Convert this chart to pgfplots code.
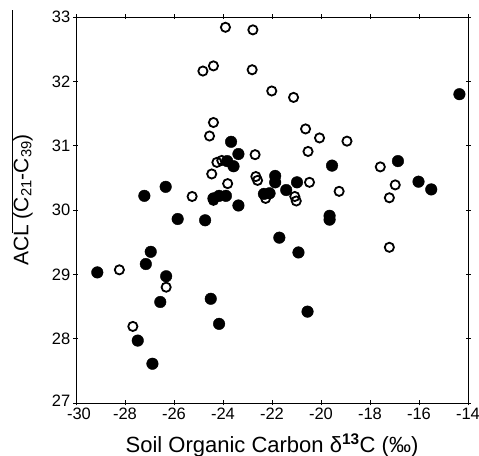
\documentclass[border=0pt]{standalone}
\usepackage{fontspec}
\setmainfont{Liberation Sans}
\usepackage{pgfplots}
\usepackage{pgfplotstable}
\pgfplotsset{compat=1.18}

% filled symbols
\pgfplotstableread{
x y
-29.13 29.03
-26.95 29.35
-27.15 29.16
-26.32 28.97
-26.56 28.57
-27.48 27.97
-26.88 27.61
-24.50 28.62
-24.16 28.23
-27.21 30.22
-26.34 30.36
-25.85 29.86
-24.73 29.84
-24.39 30.18
-24.16 30.22
-23.88 30.22
-23.37 30.07
-23.67 31.06
-23.37 30.87
-23.83 30.76
-23.57 30.68
-21.87 30.53
-21.87 30.43
-20.98 30.43
-21.42 30.31
-22.33 30.25
-22.10 30.26
-21.70 29.57
-20.92 29.34
-20.55 28.42
-19.55 30.69
-19.65 29.91
-19.65 29.85
-16.86 30.76
-16.02 30.44
-15.50 30.32
-14.35 31.80
}\filleddata

% open symbols
\pgfplotstableread{
x y
-23.90 32.84
-24.82 32.16
-24.39 32.24
-22.78 32.80
-22.81 32.18
-22.01 31.85
-21.12 31.75
-24.39 31.36
-24.55 31.15
-20.63 31.26
-20.06 31.12
-18.94 31.07
-20.53 30.91
-22.69 30.86
-24.25 30.74
-24.05 30.77
-24.46 30.56
-23.81 30.41
-22.66 30.52
-22.59 30.46
-20.47 30.43
-25.26 30.21
-24.39 30.15
-22.26 30.18
-21.07 30.21
-21.01 30.14
-19.26 30.29
-17.58 30.67
-16.97 30.39
-17.21 30.19
-17.21 29.42
-28.23 29.07
-26.32 28.80
-27.68 28.19
}\opendata

\begin{document}
\begin{tikzpicture}
\begin{axis}[
  scale only axis, width=392pt, height=386pt,
  xmin=-30, xmax=-14, ymin=27, ymax=33,
  xtick={-30,-28,...,-14}, ytick={27,28,...,33},
  xticklabels={\hspace*{6pt}-30,-28,-26,-24,-22,-20,-18,-16,-14},
  yticklabels={\raisebox{4pt}{27},28,29,30,31,32,33},
  tick align=center, major tick length=5pt,
  tick style={black, line width=0.8pt},
  axis line style={line width=0.9pt},
  tick label style={font=\fontsize{16.5}{18}\selectfont},
  xticklabel style={inner sep=2pt},
  yticklabel style={inner sep=3pt},
  label style={font=\fontsize{22}{25}\selectfont},
  xlabel={Soil Organic Carbon δ\textsuperscript{\textbf{13}}C (‰)},
  ylabel={ACL (C\textsubscript{21}-C\textsubscript{39})},
  ylabel style={at={([xshift=-47.7pt]rel axis cs:0,0.526)}, anchor=base,
    font=\fontsize{21}{24}\selectfont},
  xlabel style={at={([yshift=-49.4pt]rel axis cs:0.5,0)}, anchor=base},
  clip=false,
]
\addplot[only marks, mark=o, mark size=4.6pt,
  mark options={draw=black, line width=1.8pt, fill=white}] table {\opendata};
\addplot[only marks, mark=*, mark size=5.8pt,
  mark options={draw=black, fill=black}] table {\filleddata};
\draw[line width=0.9pt] ([xshift=-64pt]rel axis cs:0,1.018) -- ([xshift=-64pt]rel axis cs:0,0.441);
\end{axis}
\pgfresetboundingbox
\path ([shift={(-76pt,-52.7pt)}]current axis.south west)
  rectangle ([shift={(11pt,17pt)}]current axis.north east);
\end{tikzpicture}
\end{document}
